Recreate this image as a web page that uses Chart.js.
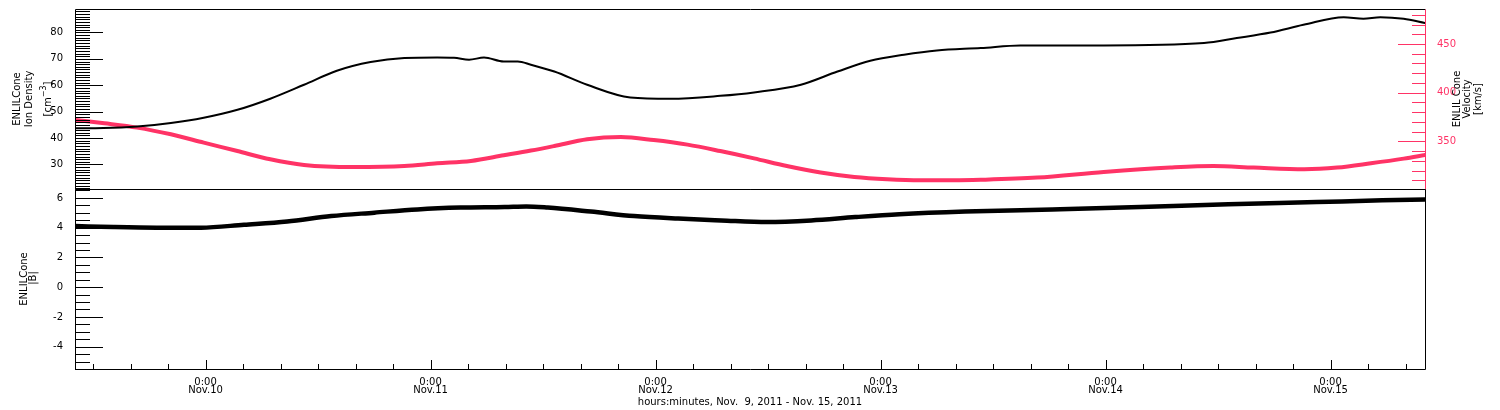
<!DOCTYPE html>
<html>
<head>
<meta charset="utf-8">
<script src="https://cdn.jsdelivr.net/npm/chart.js@4.4.0/dist/chart.umd.min.js"></script>
<style>
  body { margin: 0; background: #fff; }
  #wrap { position: relative; width: 1500px; height: 410px; }
  #top { position: absolute; left: 0; top: 0; }
  #bot { position: absolute; left: 0; top: 189px; }
</style>
</head>
<body>
<div id="wrap">
  <canvas id="top" width="1500" height="190"></canvas>
  <canvas id="bot" width="1500" height="221"></canvas>
</div>
<script>
// hours counted from Nov 9 2011 0:00
var X_MIN = 10.07, X_MAX = 154.07;

var densHours = [10.1, 13.1, 16.7, 20.3, 23.8, 27.4, 30.9, 34.5, 38.0, 41.6, 45.2, 48.7, 50.5, 52.1, 53.7, 55.8, 57.3, 58.7, 61.2, 64.7, 69.3, 73.6, 78.9, 82.5, 87.5, 91.4, 94.9, 98.5, 102.0, 106.7, 110.9, 119.8, 130.5, 134.0, 137.6, 141.1, 145.4, 147.5, 149.3, 151.8, 154.1];
var densVals  = [43.7, 43.8, 44.4, 45.7, 47.7, 50.7, 54.9, 60.2, 65.5, 68.8, 70.3, 70.5, 70.4, 69.7, 70.5, 69.0, 69.0, 67.8, 65.2, 60.2, 55.4, 54.9, 56.0, 57.3, 60.2, 65.2, 69.3, 71.6, 73.2, 74.1, 75.1, 75.1, 76.0, 77.9, 80.0, 82.9, 85.8, 85.2, 85.8, 85.2, 83.6];

var velHours = [10.1, 13.2, 16.7, 20.3, 23.8, 27.4, 30.9, 34.5, 39.8, 45.2, 48.7, 52.3, 55.8, 58.7, 61.2, 64.7, 68.3, 71.8, 75.4, 78.9, 82.5, 86.0, 89.6, 93.2, 96.7, 100.3, 103.8, 106.7, 112.7, 119.8, 126.9, 131.5, 135.8, 141.2, 144.7, 148.3, 151.8, 154.1];
var velVals  = [371.9, 368.5, 364.1, 357.2, 348.7, 340.0, 331.5, 325.7, 323.6, 324.6, 327.4, 329.8, 335.6, 340.5, 345.2, 352.1, 354.4, 351.3, 346.6, 340.0, 332.5, 324.6, 317.9, 313.3, 311.0, 310.0, 310.0, 310.5, 312.7, 318.5, 323.0, 324.6, 323.0, 321.3, 323.0, 327.4, 332.2, 335.9];

var bHours = [10.1, 14.2, 18.8, 23.5, 28.1, 32.7, 37.4, 42.0, 46.6, 51.2, 55.9, 58.2, 60.5, 65.1, 69.7, 74.4, 79.0, 83.9, 88.6, 93.3, 98.0, 105.0, 114.3, 123.7, 133.1, 142.5, 149.5, 154.1];
var bVals  = [4.11, 4.04, 4.0, 4.0, 4.2, 4.42, 4.78, 5.01, 5.23, 5.35, 5.39, 5.43, 5.35, 5.08, 4.78, 4.61, 4.49, 4.38, 4.49, 4.71, 4.9, 5.08, 5.23, 5.39, 5.57, 5.72, 5.84, 5.89];

var dayTicks  = [24, 48, 72, 96, 120, 144];
var dayLabels = ['Nov.10', 'Nov.11', 'Nov.12', 'Nov.13', 'Nov.14', 'Nov.15'];
var densTicks = [30, 40, 50, 60, 70, 80];
var velTicks  = [350, 400, 450];
var bTicks    = [-4, -2, 0, 2, 4, 6];

var PINK = '#ff3366';
var FAM = '"DejaVu Sans", sans-serif';
var tickFont = { family: FAM, size: 10 };

function pairs(xs, ys) {
  return xs.map(function(x, i) { return { x: x, y: ys[i] }; });
}
function fixedTicks(list) {
  return function(s) { s.ticks = list.map(function(v) { return { value: v }; }); };
}
function fixWidth(w) {
  return function(s) { s.width = w; s.paddingTop = 0; s.paddingBottom = 0; };
}

// IDL style ticks pointing into the plot, minor and major
function drawTicks(chart, t) {
  var ctx = chart.ctx, a = chart.chartArea, s = chart.scales[t.axis];
  ctx.save();
  ctx.strokeStyle = t.color || '#000';
  ctx.lineWidth = 1;
  ctx.lineCap = 'butt';
  ctx.setLineDash([]);
  ctx.beginPath();
  var i0 = Math.ceil(s.min / t.minor - 1e-6), i1 = Math.floor(s.max / t.minor + 1e-6);
  for (var i = i0; i <= i1; i++) {
    var v = i * t.minor;
    var maj = Math.round(v * 100) % Math.round(t.major * 100) === 0;
    var len = maj ? t.majLen : t.minLen;
    var p = Math.round(s.getPixelForValue(v)) + 0.5;
    if (t.side === 'left') { ctx.moveTo(a.left, p); ctx.lineTo(a.left + len, p); }
    else if (t.side === 'right') { ctx.moveTo(a.right + 1, p); ctx.lineTo(a.right + 1 - len, p); }
    else { ctx.moveTo(p, a.bottom + 1); ctx.lineTo(p, a.bottom + 1 - len); }
  }
  ctx.stroke();
  ctx.restore();
}

function vtext(ctx, parts, cx, cy) {
  ctx.save();
  ctx.translate(cx, cy);
  ctx.rotate(-Math.PI / 2);
  ctx.textBaseline = 'middle';
  ctx.textAlign = 'left';
  var w = 0;
  parts.forEach(function(p) { ctx.font = (p.size || 10) + 'px ' + FAM; w += ctx.measureText(p.t).width; });
  var x = -w / 2;
  parts.forEach(function(p) {
    ctx.font = (p.size || 10) + 'px ' + FAM;
    ctx.fillStyle = '#000';
    ctx.fillText(p.t, x, p.up ? -p.up : 0);
    x += ctx.measureText(p.t).width;
  });
  ctx.restore();
}

var idlPlugin = {
  id: 'idl',
  afterDraw: function(chart, args, opts) {
    var ctx = chart.ctx, a = chart.chartArea;
    var L = Math.round(a.left) + 0.5, R = Math.round(a.right) + 0.5;
    var T = Math.round(a.top) + 0.5, B = Math.round(a.bottom) + 0.5;
    ctx.save();
    ctx.lineWidth = 1;
    ctx.strokeStyle = '#000';
    ctx.beginPath();
    ctx.moveTo(R, T); ctx.lineTo(L, T); ctx.lineTo(L, B); ctx.lineTo(R, B);
    ctx.stroke();
    ctx.strokeStyle = opts.rightColor || '#000';
    ctx.beginPath();
    ctx.moveTo(R, T); ctx.lineTo(R, B);
    ctx.stroke();
    ctx.restore();
    (opts.ticks || []).forEach(function(t) { drawTicks(chart, t); });
    (opts.titles || []).forEach(function(t) { vtext(ctx, t.parts, t.x, t.y); });
  }
};

new Chart(document.getElementById('top'), {
  type: 'line',
  data: {
    datasets: [
      { label: 'Ion Density', data: pairs(densHours, densVals), yAxisID: 'yDen',
        borderColor: '#000', borderWidth: 2 },
      { label: 'Velocity', data: pairs(velHours, velVals), yAxisID: 'yVel',
        borderColor: PINK, borderWidth: 4 }
    ]
  },
  options: {
    responsive: false,
    animation: false,
    layout: { padding: { top: 9, bottom: 1 } },
    elements: { point: { radius: 0 }, line: { cubicInterpolationMode: 'monotone' } },
    plugins: {
      legend: { display: false },
      tooltip: { enabled: false },
      idl: {
        rightColor: PINK,
        ticks: [
          { axis: 'yDen', side: 'left', minor: 1, major: 10, minLen: 15, majLen: 28 },
          { axis: 'yVel', side: 'right', minor: 10, major: 50, minLen: 14, majLen: 28, color: PINK }
        ],
        titles: [
          { parts: [{ t: 'ENLILCone' }], x: 17.5, y: 99 },
          { parts: [{ t: 'Ion Density' }], x: 29, y: 99 },
          { parts: [{ t: '[cm' }, { t: '\u22123', size: 8, up: 5 }, { t: ']' }], x: 48.5, y: 99 },
          { parts: [{ t: 'ENLIL Cone' }], x: 1457.5, y: 99 },
          { parts: [{ t: 'Velocity' }], x: 1467.5, y: 99 },
          { parts: [{ t: '[km/s]' }], x: 1478, y: 99 }
        ]
      }
    },
    scales: {
      x: { type: 'linear', min: X_MIN, max: X_MAX, display: false },
      yDen: {
        position: 'left', min: 20.7, max: 88.9,
        afterBuildTicks: fixedTicks(densTicks), afterFit: fixWidth(75),
        grid: { display: false }, border: { display: false },
        ticks: { font: tickFont, color: '#000', padding: 4 }
      },
      yVel: {
        position: 'right', min: 301, max: 486,
        afterBuildTicks: fixedTicks(velTicks), afterFit: fixWidth(75),
        grid: { display: false }, border: { display: false },
        ticks: { font: tickFont, color: PINK, padding: 4 }
      }
    }
  },
  plugins: [idlPlugin]
});

new Chart(document.getElementById('bot'), {
  type: 'line',
  data: {
    datasets: [
      { label: '|B|', data: pairs(bHours, bVals), yAxisID: 'yB',
        borderColor: '#000', borderWidth: 4.5 }
    ]
  },
  options: {
    responsive: false,
    animation: false,
    layout: { padding: { right: 75 } },
    elements: { point: { radius: 0 }, line: { cubicInterpolationMode: 'monotone' } },
    plugins: {
      legend: { display: false },
      tooltip: { enabled: false },
      idl: {
        ticks: [
          { axis: 'yB', side: 'left', minor: 0.5, major: 2, minLen: 15, majLen: 28 },
          { axis: 'x', side: 'bottom', minor: 4, major: 24, minLen: 6, majLen: 10 }
        ],
        titles: [
          { parts: [{ t: 'ENLILCone' }], x: 24, y: 90 },
          { parts: [{ t: '|B|' }], x: 33.5, y: 89 }
        ]
      }
    },
    scales: {
      x: {
        type: 'linear', min: X_MIN, max: X_MAX, position: 'bottom',
        afterBuildTicks: fixedTicks(dayTicks),
        afterFit: function(s) { s.height = 41; s.paddingLeft = 0; s.paddingRight = 0; },
        grid: { display: false, drawTicks: false }, border: { display: false },
        ticks: {
          font: { family: FAM, size: 10, lineHeight: 0.8 }, color: '#000', padding: 9,
          autoSkip: false, maxRotation: 0,
          callback: function(v) {
            var i = dayTicks.indexOf(v);
            return i < 0 ? '' : ['0:00', dayLabels[i]];
          }
        },
        title: {
          display: true, text: 'hours:minutes, Nov.  9, 2011 - Nov. 15, 2011',
          font: { family: FAM, size: 10 }, color: '#000', padding: { top: 0, bottom: 2 }
        }
      },
      yB: {
        position: 'left', min: -5.5, max: 6.6,
        afterBuildTicks: fixedTicks(bTicks), afterFit: fixWidth(75),
        grid: { display: false }, border: { display: false },
        ticks: { font: tickFont, color: '#000', padding: 4 }
      }
    }
  },
  plugins: [idlPlugin]
});
</script>
</body>
</html>
